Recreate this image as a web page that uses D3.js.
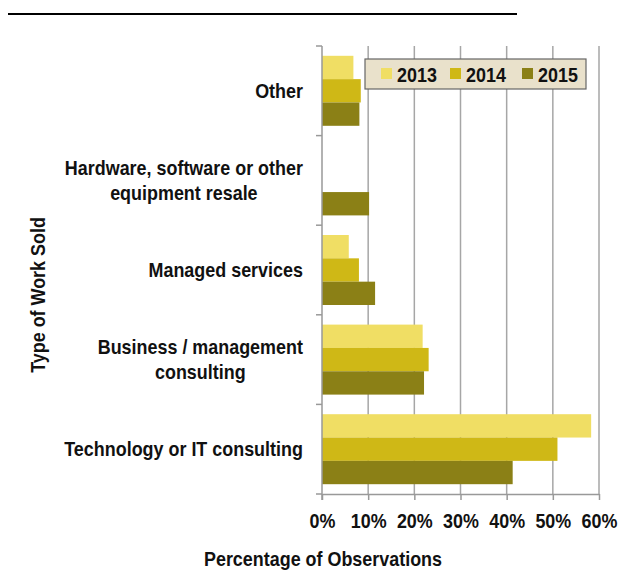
<!DOCTYPE html>
<html>
<head>
<meta charset="utf-8">
<script src="https://cdn.jsdelivr.net/npm/d3@7"></script>
<style>
  html, body { margin: 0; padding: 0; background: #fff; }
  svg { display: block; }
  text { font-family: "Liberation Sans", Arial, sans-serif; font-weight: bold; fill: #111; }
</style>
</head>
<body>
<svg id="chart" width="637" height="571"></svg>
<script>
// Work types, listed top to bottom
const categories = [
  "Other",
  "Hardware, software or other\nequipment resale",
  "Managed services",
  "Business / management\nconsulting",
  "Technology or IT consulting"
];
const years = ["2013", "2014", "2015"];
// Share of observations (%) per work type, by year
const values2013 = [6.8, 0, 5.8, 21.8, 58.3];
const values2014 = [8.4, 0, 8.0, 23.1, 51.0];
const values2015 = [8.1, 10.2, 11.5, 22.1, 41.3];
const xTicks = [0, 10, 20, 30, 40, 50, 60];
const colors = ["#F0DE64", "#CFB816", "#8B8016"];

const series = [values2013, values2014, values2015];

// Condensed bold lettering: a horizontally squeezed sans
const FONT_SIZE = 19.5;
const SQUEEZE = 0.92;

const svg = d3.select("#chart");
const plot = { left: 322, right: 599, top: 46, bottom: 494 };

const x = d3.scaleLinear().domain([0, 60]).range([plot.left, plot.right]);
const y = d3.scaleBand().domain(categories).range([plot.top, plot.bottom]).paddingInner(0).paddingOuter(0);
const yInner = d3.scaleBand().domain(years).range([0, y.bandwidth()]).paddingInner(0).paddingOuter(0.42);
const color = d3.scaleOrdinal().domain(years).range(colors);

function label(px, py, str, anchor) {
  return svg.append("text")
    .attr("transform", `translate(${px},${py}) scale(${SQUEEZE},1)`)
    .attr("font-size", FONT_SIZE)
    .attr("text-anchor", anchor || "start")
    .text(str);
}

// Rule under the heading
svg.append("line")
  .attr("x1", 8).attr("x2", 517).attr("y1", 14).attr("y2", 14)
  .attr("stroke", "#000").attr("stroke-width", 2.2);

// Vertical gridlines
svg.append("g")
  .selectAll("line")
  .data(xTicks.slice(1))
  .join("line")
  .attr("x1", d => x(d)).attr("x2", d => x(d))
  .attr("y1", plot.top).attr("y2", plot.bottom)
  .attr("stroke", "#A6A6A6").attr("stroke-width", 1.5);

// Bars
const rows = categories.map((c, i) => ({ cat: c, vals: years.map((yr, j) => ({ year: yr, v: series[j][i] })) }));
svg.append("g")
  .selectAll("g")
  .data(rows)
  .join("g")
  .attr("transform", d => `translate(0,${y(d.cat)})`)
  .selectAll("rect")
  .data(d => d.vals.filter(e => e.v > 0))
  .join("rect")
  .attr("x", x(0))
  .attr("y", d => yInner(d.year))
  .attr("width", d => x(d.v) - x(0))
  .attr("height", yInner.bandwidth())
  .attr("fill", d => color(d.year));

// Bottom axis
const xAxis = d3.axisBottom(x).tickValues(xTicks).tickFormat(d => d + "%").tickSizeInner(6).tickSizeOuter(0).tickPadding(14);
const gx = svg.append("g").attr("transform", `translate(0,${plot.bottom})`).call(xAxis);
gx.select(".domain").attr("stroke", "#999").attr("stroke-width", 1.5);
gx.selectAll(".tick line").attr("stroke", "#999").attr("stroke-width", 1.5);
gx.selectAll(".tick text")
  .attr("font-size", FONT_SIZE)
  .attr("fill", "#111")
  .attr("transform", `scale(${SQUEEZE},1)`)
  .style("font-family", '"Liberation Sans", Arial, sans-serif')
  .style("font-weight", "bold");

// Left axis: line with ticks on band boundaries
const gy = svg.append("g");
gy.append("line").attr("x1", plot.left).attr("x2", plot.left).attr("y1", plot.top).attr("y2", plot.bottom + 6)
  .attr("stroke", "#999").attr("stroke-width", 1.5);
const boundaries = categories.map(c => y(c)).concat([plot.bottom]);
gy.selectAll("line.tk").data(boundaries).join("line").attr("class", "tk")
  .attr("x1", plot.left - 6).attr("x2", plot.left).attr("y1", d => d).attr("y2", d => d)
  .attr("stroke", "#999").attr("stroke-width", 1.5);

// Category labels: right-aligned block, lines centred within it
const labelRight = 303;
const lineGap = 25;
categories.forEach(c => {
  const lines = c.split("\n");
  const cy = y(c) + y.bandwidth() / 2;
  const t = svg.append("text").attr("font-size", FONT_SIZE).attr("text-anchor", "middle");
  lines.forEach((ln, i) => {
    t.append("tspan").text(ln)
      .attr("x", 0)
      .attr("y", cy + (i - (lines.length - 1) / 2) * lineGap + 7);
  });
  let maxW = 0;
  t.selectAll("tspan").each(function () { maxW = Math.max(maxW, this.getComputedTextLength()); });
  t.attr("transform", `translate(${labelRight - (maxW * SQUEEZE) / 2},0) scale(${SQUEEZE},1)`);
});

// Axis titles
label(323, 566, "Percentage of Observations", "middle");
svg.append("text")
  .attr("transform", `translate(45,295) rotate(-90) scale(${SQUEEZE},1)`)
  .attr("text-anchor", "middle").attr("font-size", FONT_SIZE)
  .text("Type of Work Sold");

// Legend
const legend = svg.append("g");
legend.append("rect").attr("x", 365).attr("y", 59).attr("width", 221).attr("height", 30)
  .attr("fill", "#E9E1CB").attr("stroke", "#666").attr("stroke-width", 1.2);
const legX = [381, 450, 522];
years.forEach((yr, i) => {
  legend.append("rect").attr("x", legX[i]).attr("y", 68).attr("width", 11).attr("height", 11).attr("fill", color(yr));
  label(legX[i] + 16, 81.5, yr);
});
</script>
</body>
</html>
